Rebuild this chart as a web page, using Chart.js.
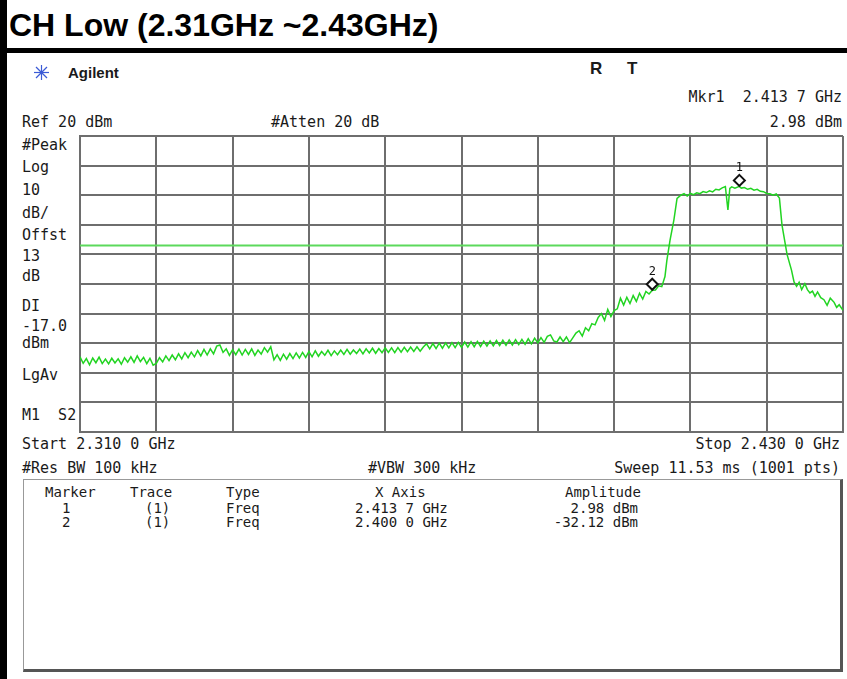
<!DOCTYPE html>
<html>
<head>
<meta charset="utf-8">
<script src="https://cdn.jsdelivr.net/npm/chart.js@4.4.1/dist/chart.umd.min.js"></script>
<style>
  body { margin: 0; width: 847px; height: 679px; overflow: hidden; background: #fff; position: relative; }
  .t { position: absolute; font: 15px "DejaVu Sans Mono", monospace; line-height: 15px; color: #1a1a1a; white-space: pre; }
  .s { font-size: 14px; line-height: 14px; }
  #title { position: absolute; left: 9px; top: 9px; font: bold 32px "Liberation Sans", Arial, sans-serif; line-height: 32px; color: #000; white-space: pre; }
  #wrap { position: absolute; left: 78px; top: 134px; width: 767px; height: 300px; }
  #table { position: absolute; left: 23px; top: 479px; width: 816px; height: 189px; border-top: 1px solid #999; border-left: 1px solid #999; border-right: 3px solid #555; border-bottom: 3px solid #555; }
</style>
</head>
<body>
<div style="position:absolute;left:0;top:0;width:7px;height:679px;background:#000"></div>
<div style="position:absolute;left:0;top:48px;width:847px;height:5px;background:#000"></div>
<div id="title">CH Low (2.31GHz ~2.43GHz)</div>

<svg style="position:absolute;left:33px;top:64px" width="17" height="17" viewBox="0 0 17 17">
  <g stroke="#3b5bd6" stroke-width="1.2">
    <line x1="8.5" y1="1" x2="8.5" y2="16"/><line x1="1" y1="8.5" x2="16" y2="8.5"/>
    <line x1="3" y1="3" x2="14" y2="14"/><line x1="14" y1="3" x2="3" y2="14"/>
  </g>
</svg>
<div class="t" style="left:68px;top:64px;font:bold 15px 'Liberation Sans',Arial,sans-serif;">Agilent</div>
<div class="t" style="left:590px;top:59px;font:bold 17px 'Liberation Sans',Arial,sans-serif;">R</div>
<div class="t" style="left:627px;top:59px;font:bold 17px 'Liberation Sans',Arial,sans-serif;">T</div>

<div class="t" style="right:5px;top:90px;">Mkr1  2.413 7 GHz</div>
<div class="t" style="left:22px;top:115px;">Ref 20 dBm</div>
<div class="t" style="left:271px;top:115px;">#Atten 20 dB</div>
<div class="t" style="right:5px;top:115px;">2.98 dBm</div>

<div class="t" style="left:22px;top:138px;">#Peak</div>
<div class="t" style="left:22px;top:160px;">Log</div>
<div class="t" style="left:22px;top:183px;">10</div>
<div class="t" style="left:22px;top:206px;">dB/</div>
<div class="t" style="left:22px;top:228px;">Offst</div>
<div class="t" style="left:22px;top:249px;">13</div>
<div class="t" style="left:22px;top:269px;">dB</div>
<div class="t" style="left:22px;top:299px;">DI</div>
<div class="t" style="left:22px;top:319px;">-17.0</div>
<div class="t" style="left:22px;top:336px;">dBm</div>
<div class="t" style="left:22px;top:368px;">LgAv</div>
<div class="t" style="left:22px;top:408px;">M1  S2</div>

<div id="wrap"><canvas id="spec"></canvas></div>

<div class="t" style="left:22px;top:437px;">Start 2.310 0 GHz</div>
<div class="t" style="right:7px;top:437px;">Stop 2.430 0 GHz</div>
<div class="t" style="left:22px;top:461px;">#Res BW 100 kHz</div>
<div class="t" style="left:368px;top:461px;">#VBW 300 kHz</div>
<div class="t" style="right:7px;top:461px;">Sweep 11.53 ms (1001 pts)</div>

<div id="table"></div>
<div class="t s" style="left:45px;top:485px;">Marker</div>
<div class="t s" style="left:130px;top:485px;">Trace</div>
<div class="t s" style="left:226px;top:485px;">Type</div>
<div class="t s" style="left:375px;top:485px;">X Axis</div>
<div class="t s" style="left:565px;top:485px;">Amplitude</div>
<div class="t s" style="left:62px;top:501px;">1</div>
<div class="t s" style="left:145px;top:501px;">(1)</div>
<div class="t s" style="left:226px;top:501px;">Freq</div>
<div class="t s" style="left:355px;top:501px;">2.413 7 GHz</div>
<div class="t s" style="left:538px;top:501px;width:100px;text-align:right;">2.98 dBm</div>
<div class="t s" style="left:62px;top:515px;">2</div>
<div class="t s" style="left:145px;top:515px;">(1)</div>
<div class="t s" style="left:226px;top:515px;">Freq</div>
<div class="t s" style="left:355px;top:515px;">2.400 0 GHz</div>
<div class="t s" style="left:538px;top:515px;width:100px;text-align:right;">-32.12 dBm</div>

<script>
// sweep 2.310 - 2.430 GHz, values
var freqMHz = [
  2310, 2310.5, 2311, 2311.5, 2312, 2312.5, 2313, 2313.5, 2314, 2314.5, 2315, 2315.5,
  2316, 2316.5, 2317, 2317.5, 2318, 2318.5, 2319, 2319.5, 2320, 2320.5, 2321, 2321.5,
  2322, 2322.5, 2323, 2323.5, 2324, 2324.5, 2325, 2325.5, 2326, 2326.5,
  2327, 2327.5, 2328, 2328.5, 2329, 2329.5, 2330, 2330.5, 2331, 2331.5,
  2332, 2332.5, 2333, 2333.5, 2334, 2334.5, 2335, 2335.5, 2336, 2336.5,
  2337, 2337.5, 2338, 2338.5, 2339, 2339.5, 2340, 2340.5,
  2341, 2341.5, 2342, 2342.5, 2343, 2343.5, 2344, 2344.5, 2345, 2345.5, 2346, 2346.5,
  2347, 2347.5, 2348, 2348.5, 2349, 2349.5, 2350, 2350.5, 2351, 2351.5, 2352, 2352.5,
  2353, 2353.5, 2354, 2354.5, 2355, 2355.5, 2356, 2356.5, 2357, 2357.5, 2358, 2358.5,
  2359, 2359.5, 2360, 2360.5, 2361, 2361.5, 2362, 2362.5, 2363, 2363.5, 2364, 2364.5,
  2365, 2365.5, 2366, 2366.5, 2367, 2367.5, 2368, 2368.5, 2369, 2369.5, 2370, 2370.5,
  2371, 2371.5, 2372, 2372.5, 2373, 2373.5, 2374, 2374.5, 2375, 2375.5, 2376, 2376.5,
  2377, 2377.5, 2378, 2378.5, 2379, 2379.5, 2380, 2380.5, 2381, 2381.5, 2382, 2382.5,
  2383, 2383.5, 2384, 2384.5, 2385, 2385.5, 2386, 2386.5, 2387, 2387.5, 2388, 2388.5,
  2389, 2389.5, 2390, 2390.5, 2391, 2391.5, 2392, 2392.5, 2393, 2393.5, 2394, 2394.5, 2395,
  2395.5, 2396, 2396.5, 2397, 2397.5, 2398, 2398.5, 2399, 2399.5, 2400, 2400.5, 2401, 2401.5,
  2402, 2402.3, 2402.8, 2403.4, 2403.9, 2404.5, 2405, 2405.5, 2406, 2406.5, 2407, 2407.5,
  2408, 2408.5, 2409, 2409.5, 2410, 2410.5, 2411, 2411.5, 2411.9, 2412.2, 2412.5, 2413,
  2413.7, 2414, 2414.5, 2415, 2415.5, 2416, 2416.5, 2417, 2417.5, 2418, 2418.5, 2419, 2419.5, 2420,
  2420.4, 2421.2, 2421.9, 2422.3, 2422.7, 2423.1, 2423.5, 2424, 2424.4, 2424.8, 2425.2,
  2425.6, 2426, 2426.5, 2427, 2427.5, 2428, 2428.6, 2429, 2429.4, 2430
];
var traceDbm = [
  -54.6, -56.8, -55.2, -57.3, -55.0, -56.6, -54.7, -56.9, -55.4, -57.0, -55.1, -56.7,
  -55.3, -57.1, -54.9, -56.4, -54.6, -56.5, -54.3, -56.2, -54.8, -56.9, -55.1, -57.4,
  -56.8, -54.9, -56.3, -54.3, -55.9, -54.0, -55.6, -53.6, -55.3, -53.2,
  -54.9, -53.0, -54.6, -52.5, -54.3, -52.1, -54.0, -51.9, -53.6, -51.0,
  -50.6, -53.1, -51.9, -54.1, -52.2, -53.9, -52.0, -54.0, -52.1, -53.8,
  -51.9, -54.1, -52.3, -53.7, -51.5, -53.0, -51.2, -55.6,
  -53.9, -55.8, -53.7, -55.4, -53.5, -55.2, -53.3, -55.0, -53.1, -54.8, -52.8, -54.6,
  -52.6, -54.4, -52.8, -54.1, -52.4, -54.2, -52.6, -53.9, -52.3, -53.8, -52.1, -53.7,
  -52.3, -53.5, -52.0, -53.6, -51.9, -53.3, -51.7, -53.4, -51.8, -53.2, -51.6, -53.1,
  -51.6, -53.2, -51.5, -53.0, -51.4, -52.9, -51.3, -52.8, -51.2, -52.7, -51.3, -50.2,
  -51.9, -50.1, -51.8, -50.0, -51.7, -49.9, -51.6, -49.8, -51.5, -49.7, -51.4, -49.6,
  -51.3, -49.5, -51.2, -49.4, -51.1, -49.3, -51.0, -49.2, -50.9, -49.1, -50.8, -49.0,
  -50.7, -48.9, -50.6, -48.8, -50.5, -48.7, -50.4, -48.5, -50.2, -48.3, -49.9, -48.1,
  -49.7, -47.7, -47.2, -49.2, -49.6, -47.9, -49.5, -47.9, -49.8, -48.2, -46.6, -45.8,
  -47.6, -44.8, -45.8, -43.4, -43.8, -41.3, -40.0, -42.3, -38.6, -41.0, -39.0, -38.4, -34.8,
  -37.1, -34.5, -36.6, -33.9, -35.9, -33.1, -35.1, -32.5, -33.4, -32.1, -32.0, -30.6, -30.9,
  -27.5, -22.0, -15.2, -8.4, -1.1, 0.0, 0.5, -0.3, 0.6, 0.2, 0.8, 0.5,
  1.2, 0.9, 1.5, 1.1, 2.0, 1.8, 2.5, 2.9, -5.0, 2.3, 2.8, 2.4,
  2.98, 2.4, 2.6, 2.0, 2.3, 1.7, 2.0, 1.3, 1.2, 0.6, 0.5, 0.0, 0.4, -1.0,
  -10.0, -20.0, -25.3, -29.3, -30.8, -29.4, -31.9, -29.9, -31.9, -33.0, -32.4,
  -34.2, -32.7, -34.6, -35.3, -37.2, -34.8, -36.2, -37.9, -37.0, -38.9
];

var displayLineDbm = -17;
var markerNames = ['1', '2'];
var markerFreqMHz = [2413.7, 2400.0];
var markerDbm = [2.98, -32.12];

var tracePoints = freqMHz.map(function(f, i) {
    return { x: f, y: traceDbm[i] };
});

// diamonds sit just above the trace, number on top
var markerPlugin = {
    id: 'markers',
    afterDatasetsDraw: function(chart) {
        var ctx = chart.ctx;
        var xs = chart.scales.x, ys = chart.scales.y;
        ctx.save();
        markerFreqMHz.forEach(function(f, i) {
            var px = xs.getPixelForValue(f);
            var py = ys.getPixelForValue(markerDbm[i]) - 6;
            ctx.beginPath();
            ctx.moveTo(px, py - 5.5);
            ctx.lineTo(px + 5.5, py);
            ctx.lineTo(px, py + 5.5);
            ctx.lineTo(px - 5.5, py);
            ctx.closePath();
            ctx.fillStyle = '#fff';
            ctx.fill();
            ctx.lineWidth = 2;
            ctx.strokeStyle = '#111';
            ctx.stroke();
            ctx.fillStyle = '#111';
            ctx.font = '12px "DejaVu Sans Mono"';
            ctx.textAlign = 'center';
            ctx.textBaseline = 'alphabetic';
            ctx.fillText(markerNames[i], px, py - 9);
        });
        ctx.restore();
    }
};

var gridColor = '#6e6e6e';

new Chart(document.getElementById('spec').getContext('2d'), {
    type: 'line',
    data: {
        datasets: [{
            data: tracePoints,
            borderColor: '#22d422',
            borderWidth: 1.5,
            pointRadius: 0,
            tension: 0
        }, {
            data: [{ x: 2310, y: displayLineDbm }, { x: 2430, y: displayLineDbm }],
            borderColor: '#5cd95c',
            borderWidth: 2,
            pointRadius: 0
        }]
    },
    options: {
        responsive: true,
        maintainAspectRatio: false,
        animation: false,
        layout: { padding: 2 },
        plugins: {
            legend: { display: false },
            tooltip: { enabled: false }
        },
        scales: {
            x: {
                type: 'linear',
                min: 2310,
                max: 2430,
                ticks: { stepSize: 12, display: false },
                grid: { color: gridColor, lineWidth: 2, drawTicks: false },
                border: { color: gridColor, width: 2 }
            },
            y: {
                min: -80,
                max: 20,
                ticks: { stepSize: 10, display: false },
                grid: { color: gridColor, lineWidth: 2, drawTicks: false },
                border: { color: gridColor, width: 2 }
            }
        }
    },
    plugins: [markerPlugin]
});
</script>
</body>
</html>
